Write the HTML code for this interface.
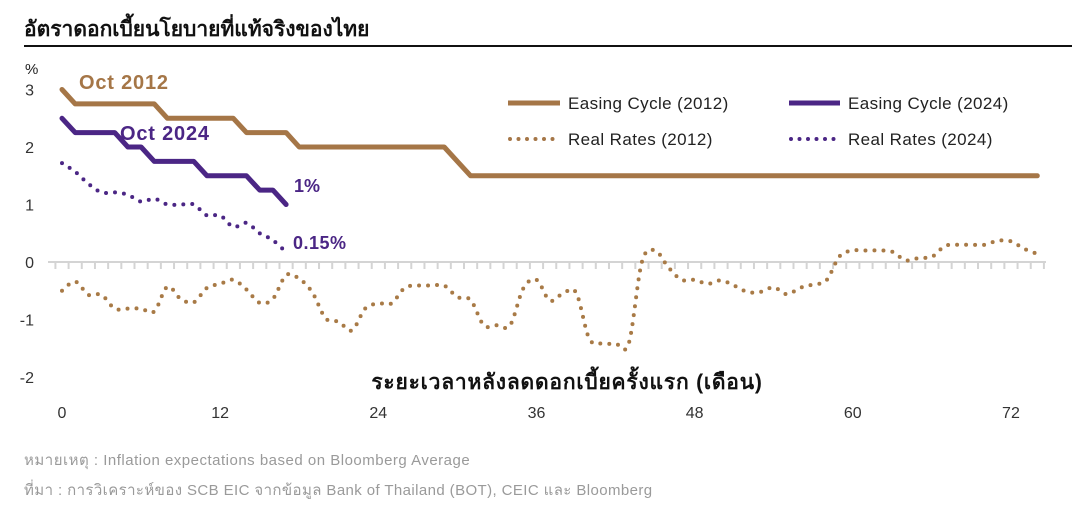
<!DOCTYPE html>
<html><head><meta charset="utf-8">
<style>
body{margin:0;background:#fff;font-family:"Liberation Sans","DejaVu Sans",sans-serif;}
svg{display:block}
</style></head>
<body>
<svg id="chart" width="1072" height="520" viewBox="0 0 1072 520">
<text x="24" y="36" font-size="21" font-weight="bold" fill="#111">อัตราดอกเบี้ยนโยบายที่แท้จริงของไทย</text>
<line x1="24" y1="46" x2="1072" y2="46" stroke="#111" stroke-width="2"/>
<text x="25" y="74" font-size="15" fill="#222">%</text>
<g id="yticks"></g>
<g id="xaxis"></g>
<g id="series"></g>
<text x="567" y="389" font-size="21" font-weight="bold" fill="#111" text-anchor="middle" letter-spacing="0.8">ระยะเวลาหลังลดดอกเบี้ยครั้งแรก (เดือน)</text>
<text x="79" y="89" font-size="20" font-weight="bold" fill="#a57647" letter-spacing="0.8">Oct 2012</text>
<text x="120" y="140" font-size="20" font-weight="bold" fill="#4b2685" letter-spacing="0.8">Oct 2024</text>
<text x="294" y="192" font-size="18" font-weight="bold" fill="#4b2685">1%</text>
<text x="293" y="249" font-size="18" font-weight="bold" fill="#4b2685" letter-spacing="0.5">0.15%</text>
<g font-size="17" letter-spacing="0.4">
<line x1="508" y1="103" x2="560" y2="103" stroke="#a57647" stroke-width="5"/>
<text x="568" y="109" fill="#222">Easing Cycle (2012)</text>
<line x1="789" y1="103" x2="840" y2="103" stroke="#4b2685" stroke-width="5"/>
<text x="848" y="109" fill="#222">Easing Cycle (2024)</text>
<line x1="510" y1="139" x2="560" y2="139" stroke="#a57647" stroke-width="4" stroke-linecap="round" stroke-dasharray="0 8.5"/>
<text x="568" y="145" fill="#222">Real Rates (2012)</text>
<line x1="791" y1="139" x2="840" y2="139" stroke="#4b2685" stroke-width="4" stroke-linecap="round" stroke-dasharray="0 8.5"/>
<text x="848" y="145" fill="#222">Real Rates (2024)</text>
</g>
<text x="24" y="465" font-size="15" letter-spacing="0.5" fill="#9a9a9a">หมายเหตุ : Inflation expectations based on Bloomberg Average</text>
<text x="24" y="495" font-size="15" letter-spacing="0.4" fill="#9a9a9a">ที่มา : การวิเคราะห์ของ SCB EIC จากข้อมูล Bank of Thailand (BOT), CEIC และ Bloomberg</text>
</svg>
<script>
const yTicks=[3,2,1,0,-1,-2];
const xTicks=[0,12,24,36,48,60,72];
const easing2012=[3,2.75,2.75,2.75,2.75,2.75,2.75,2.75,2.5,2.5,2.5,2.5,2.5,2.5,2.25,2.25,2.25,2.25,2,2,2,2,2,2,2,2,2,2,2,2,1.75,1.5,1.5,1.5,1.5,1.5,1.5,1.5,1.5,1.5,1.5,1.5,1.5,1.5,1.5,1.5,1.5,1.5,1.5,1.5,1.5,1.5,1.5,1.5,1.5,1.5,1.5,1.5,1.5,1.5,1.5,1.5,1.5,1.5,1.5,1.5,1.5,1.5,1.5,1.5,1.5,1.5,1.5,1.5,1.5];
const easing2024=[2.5,2.25,2.25,2.25,2.25,2,2,1.75,1.75,1.75,1.75,1.5,1.5,1.5,1.5,1.25,1.25,1];
const real2024=[1.72,1.57,1.36,1.21,1.21,1.17,1.05,1.1,1.0,1.0,1.0,0.81,0.81,0.61,0.68,0.5,0.38,0.17];
const real2012=[-0.5,-0.34,-0.57,-0.57,-0.81,-0.81,-0.81,-0.86,-0.43,-0.64,-0.7,-0.45,-0.38,-0.31,-0.48,-0.71,-0.64,-0.23,-0.29,-0.53,-0.98,-1.04,-1.19,-0.81,-0.72,-0.72,-0.45,-0.41,-0.41,-0.41,-0.61,-0.66,-1.1,-1.1,-1.1,-0.46,-0.31,-0.67,-0.55,-0.53,-1.33,-1.42,-1.42,-1.42,0.0,0.2,-0.09,-0.31,-0.31,-0.38,-0.32,-0.41,-0.52,-0.52,-0.44,-0.56,-0.45,-0.39,-0.32,0.1,0.2,0.2,0.2,0.18,0.03,0.07,0.09,0.28,0.3,0.3,0.3,0.37,0.36,0.23,0.14];
const NS='http://www.w3.org/2000/svg';
const xS=m=>62+m*13.18;
const yS=v=>262-v*57.5;
function mk(tag,attrs,parent){const e=document.createElementNS(NS,tag);for(const k in attrs)e.setAttribute(k,attrs[k]);parent.appendChild(e);return e;}
const yg=document.getElementById('yticks');
yTicks.forEach(v=>{const t=mk('text',{x:34,y:yS(v)+6,'font-size':16,fill:'#333','text-anchor':'end'},yg);t.textContent=v;

});
const xg=document.getElementById('xaxis');
const ax=mk('line',{x1:48,y1:262,x2:1046,y2:262,stroke:'#d4d4d4','stroke-width':2},xg);


for(let m=-1;m<=74;m++){const x=xS(m)+6.6;if(x<48||x>1047)continue;const tk=mk('line',{x1:x,y1:262,x2:x,y2:269,stroke:'#d4d4d4','stroke-width':2},xg);

}
xTicks.forEach(m=>{const t=mk('text',{x:xS(m),y:418,'font-size':16,fill:'#333','text-anchor':'middle'},xg);t.textContent=m;

});
function linePath(arr){return arr.map((v,i)=>(i?'L':'M')+xS(i).toFixed(1)+' '+yS(v).toFixed(1)).join(' ');}
function smoothPath(arr){const p=arr.map((v,i)=>[xS(i),yS(v)]);let d='M'+p[0][0]+' '+p[0][1];
for(let i=0;i<p.length-1;i++){const p0=p[Math.max(0,i-1)],p1=p[i],p2=p[i+1],p3=p[Math.min(p.length-1,i+2)];
const c1=[p1[0]+(p2[0]-p0[0])/6,p1[1]+(p2[1]-p0[1])/6],c2=[p2[0]-(p3[0]-p1[0])/6,p2[1]-(p3[1]-p1[1])/6];
d+=' C'+c1.map(n=>n.toFixed(1)).join(' ')+' '+c2.map(n=>n.toFixed(1)).join(' ')+' '+p2[0].toFixed(1)+' '+p2[1].toFixed(1);}return d;}
const sg=document.getElementById('series');
const s1=mk('path',{d:smoothPath(real2012),fill:'none',stroke:'#a87a46','stroke-width':4,'stroke-linecap':'round','stroke-dasharray':'0 9'},sg);


const s2=mk('path',{d:smoothPath(real2024),fill:'none',stroke:'#4b2685','stroke-width':4,'stroke-linecap':'round','stroke-dasharray':'0 9'},sg);


const s3=mk('path',{d:linePath(easing2012),fill:'none',stroke:'#a57647','stroke-width':5,'stroke-linecap':'round','stroke-linejoin':'round'},sg);


const s4=mk('path',{d:linePath(easing2024),fill:'none',stroke:'#4b2685','stroke-width':5,'stroke-linecap':'round','stroke-linejoin':'round'},sg);


</script>
</body></html>
